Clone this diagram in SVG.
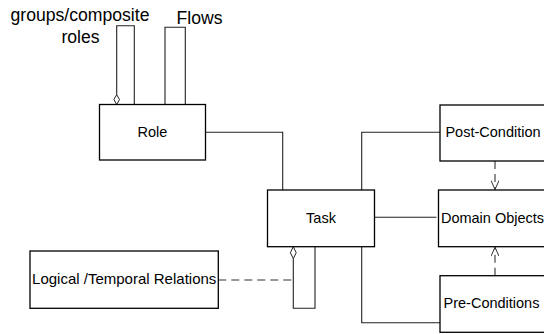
<svg xmlns="http://www.w3.org/2000/svg" width="544" height="334" viewBox="0 0 544 334">
<style>
.box{fill:#fff;stroke:#000;stroke-width:1.3}
.ln{fill:none;stroke:#222;stroke-width:1.1}
.dash{fill:none;stroke:#333;stroke-width:1.1;stroke-dasharray:8 5}
.dia{fill:#fff;stroke:#222;stroke-width:1}
.t{font-family:"Liberation Sans",Arial,sans-serif;font-size:14.5px;fill:#000;text-anchor:middle}
.lbl{font-family:"Liberation Sans",Arial,sans-serif;font-size:17.6px;fill:#000;text-anchor:middle}
</style>
<defs>
<marker id="open" markerWidth="12" markerHeight="8" refX="10" refY="4" orient="auto" markerUnits="userSpaceOnUse">
<path d="M1,0 L10,4 L1,8" fill="none" stroke="#333" stroke-width="1"/>
</marker>
</defs>
<g id="connectors">
<path class="ln" d="M205.5,132.3 H282.7 V190"/>
<path class="ln" d="M361.7,190 V132.3 H440"/>
<path class="ln" d="M374.5,217.3 H436.5"/>
<path class="ln" d="M361.7,246.7 V322.7 H440"/>
<path class="ln" d="M116.7,94.7 V25.7 H134.3 V104.5"/>
<path class="dia" d="M116.7,94.7 L119.5,99.5 L116.7,104.5 L113.9,99.5 Z"/>
<path class="ln" d="M165,104.5 V27.3 H185.3 V104.5"/>
<path class="ln" d="M293.3,258.7 V308.3 H315 V246.7"/>
<path class="dia" d="M293.3,246.7 L296.2,252.7 L293.3,258.7 L290.4,252.7 Z"/>
<path class="dash" d="M218.3,280 H293" stroke-dasharray="8 6"/>
<path class="dash" d="M495,161 V189.5" stroke-dasharray="7 5" marker-end="url(#open)"/>
<path class="dash" d="M495,275.7 V247.2" stroke-dasharray="7 5" marker-end="url(#open)"/>
</g>
<g id="labels">
<text class="lbl" x="80" y="21">groups/composite</text>
<text class="lbl" x="80.5" y="42.7">roles</text>
<text class="lbl" x="199.5" y="24.3">Flows</text>
</g>
<g id="role">
<rect class="box" x="99.5" y="104.5" width="106" height="55.5"/>
<text class="t" x="152.5" y="137.3">Role</text>
</g>
<g id="task">
<rect class="box" x="267.5" y="190" width="107" height="56.7"/>
<text class="t" x="321" y="222.7">Task</text>
</g>
<g id="post-condition">
<rect class="box" x="440" y="105" width="106" height="56"/>
<text class="t" x="493" y="137">Post-Condition</text>
</g>
<g id="domain-objects">
<rect class="box" x="438.5" y="190" width="108" height="56.7"/>
<text class="t" x="492.5" y="223">Domain Objects</text>
</g>
<g id="pre-conditions">
<rect class="box" x="440" y="275.7" width="106" height="56.6"/>
<text class="t" x="491.5" y="307.7">Pre-Conditions</text>
</g>
<g id="logical-temporal">
<rect class="box" x="30" y="251" width="188.3" height="57.3"/>
<text class="t" x="124.2" y="284.3" style="font-size:15px">Logical /Temporal Relations</text>
</g>
</svg>
